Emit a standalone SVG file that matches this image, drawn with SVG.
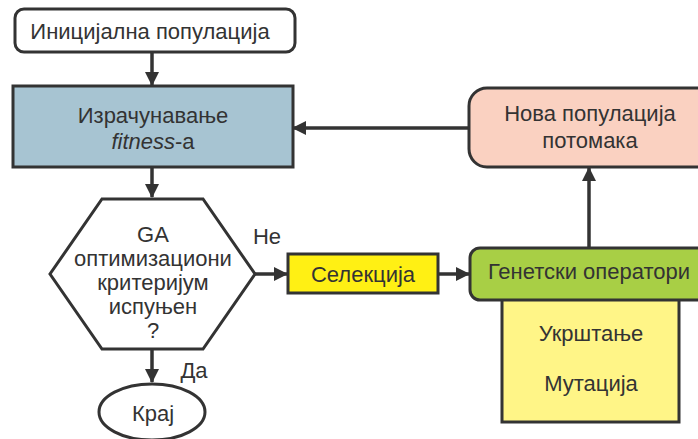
<svg xmlns="http://www.w3.org/2000/svg" width="698" height="439" viewBox="0 0 698 439">
  <defs>
    <marker id="arrow" markerWidth="14" markerHeight="14" refX="13" refY="7" orient="auto" markerUnits="userSpaceOnUse" viewBox="0 0 14 14">
      <path d="M0,0 L14,7 L0,14 Z" fill="#333"/>
    </marker>
    <style>
      .shape { stroke: #333; stroke-width: 3; }
      .lbl { font-family: "Liberation Sans", Arial, sans-serif; font-size: 22px; fill: #333; text-anchor: middle; }
      .edge { stroke: #333; stroke-width: 3.5; fill: none; }
    </style>
  </defs>
  <rect width="698" height="439" fill="#fff"/>

  <g id="connectors">
    <line class="edge" x1="152" y1="52" x2="152" y2="85" marker-end="url(#arrow)"/>
    <line class="edge" x1="152" y1="168" x2="152" y2="197" marker-end="url(#arrow)"/>
    <line class="edge" x1="255" y1="274" x2="287" y2="274" marker-end="url(#arrow)"/>
    <line class="edge" x1="438" y1="274" x2="469" y2="274" marker-end="url(#arrow)"/>
    <line class="edge" x1="589" y1="248" x2="589" y2="168" marker-end="url(#arrow)"/>
    <line class="edge" x1="469" y1="128" x2="293" y2="128" marker-end="url(#arrow)"/>
    <line class="edge" x1="152" y1="349" x2="152" y2="382" marker-end="url(#arrow)"/>
    <text class="lbl" x="267" y="244">Не</text>
    <text class="lbl" x="194" y="378">Да</text>
  </g>

  <g id="init">
    <rect class="shape" x="15" y="9" width="280" height="43" rx="9" fill="#fff"/>
    <text class="lbl" x="150" y="39">Иницијална популација</text>
  </g>

  <g id="fitness">
    <rect class="shape" x="13" y="86" width="280" height="81" fill="#a7c4d2"/>
    <text class="lbl" x="153" y="123">Израчунавање</text>
    <text class="lbl" x="153" y="149"><tspan font-style="italic">fitness</tspan>-а</text>
  </g>

  <g id="criterion">
    <polygon class="shape" points="102,199 203,199 255,274 203,349 102,349 50,274" fill="#fff"/>
    <text class="lbl" x="153" y="242">GA</text>
    <text class="lbl" x="153" y="266">оптимизациони</text>
    <text class="lbl" x="153" y="290">критеријум</text>
    <text class="lbl" x="153" y="314">испуњен</text>
    <text class="lbl" x="153" y="338">?</text>
  </g>

  <g id="end">
    <ellipse class="shape" cx="152" cy="412" rx="53" ry="28" fill="#fff"/>
    <text class="lbl" x="153" y="421">Крај</text>
  </g>

  <g id="selection">
    <rect class="shape" x="288" y="254" width="150" height="39" fill="#fff014"/>
    <text class="lbl" x="363" y="282">Селекција</text>
  </g>

  <g id="operators">
    <rect class="shape" x="502" y="298" width="177" height="124" fill="#fff587"/>
    <rect class="shape" x="470" y="248" width="240" height="52" rx="10" fill="#a8cf45"/>
    <text class="lbl" x="589" y="279">Генетски оператори</text>
    <text class="lbl" x="591" y="341">Укрштање</text>
    <text class="lbl" x="591" y="391">Мутација</text>
  </g>

  <g id="offspring">
    <rect class="shape" x="469" y="88" width="250" height="79" rx="18" fill="#fad1c1"/>
    <text class="lbl" x="590" y="121">Нова популација</text>
    <text class="lbl" x="590" y="148">потомака</text>
  </g>
</svg>
